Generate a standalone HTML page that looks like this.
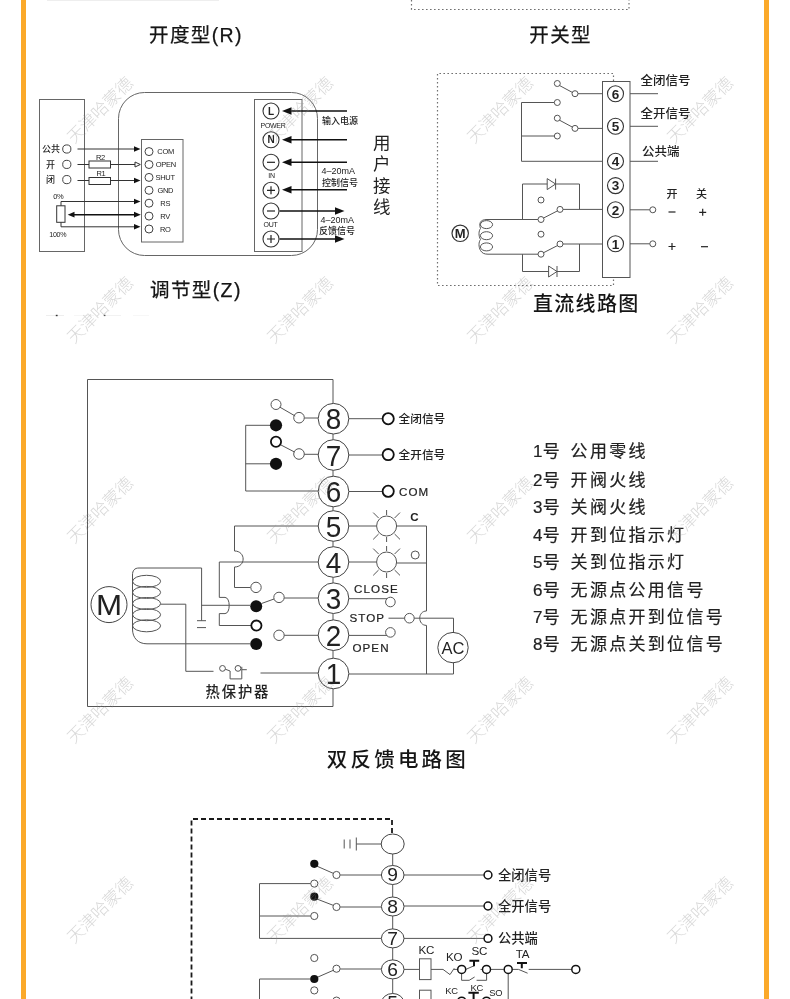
<!DOCTYPE html>
<html lang="zh-CN">
<head>
<meta charset="utf-8">
<title>接线图</title>
<style>
html,body{margin:0;padding:0;background:#fff;}
body{width:790px;height:999px;overflow:hidden;font-family:"Liberation Sans","Noto Sans CJK SC",sans-serif;}
svg{display:block;will-change:transform;}
svg text{font-family:"Liberation Sans","Noto Sans CJK SC",sans-serif;fill:#222;}
.ln{stroke:#666;stroke-width:1;fill:none;}
.lb{stroke:#222;stroke-width:1.4;fill:none;}
.wm text{fill:#8c8c8c;fill-opacity:0.34;font-size:17px;font-weight:300;text-anchor:middle;}
.ttl{font-size:19.5px;fill:#151515;font-weight:400;stroke:#151515;stroke-width:0.25px;}
.dot{stroke:#707070;stroke-width:1.2;fill:none;stroke-dasharray:1.6 2.4;}
</style>
</head>
<body>
<svg width="790" height="999" viewBox="0 0 790 999">
<rect x="0" y="0" width="790" height="999" fill="#fff"/>
<!-- side borders -->
<rect x="21" y="0" width="5" height="999" fill="#fba92a"/>
<rect x="764" y="0" width="5" height="999" fill="#fba92a"/>


<!-- SECTION1: top-left regulator diagram -->
<g id="s1">
<!-- faint cropped remnants at very top -->
<g fill="#eeeeee"><rect x="47" y="0" width="172" height="1"/></g>
<text class="ttl" x="149" y="41.8" style="letter-spacing:1.4px">开度型(R)</text>
<text class="ttl" x="150" y="296.8" style="letter-spacing:1.4px">调节型(Z)</text>
<!-- left box -->
<rect class="ln" x="39.5" y="99.5" width="45" height="152"/>
<!-- rounded body -->
<rect class="ln" x="118.5" y="92.5" width="199" height="163" rx="26" ry="26"/>
<!-- inner terminal box -->
<rect class="ln" x="141.5" y="139.5" width="41.5" height="102.5"/>
<g class="ln" style="stroke:#444">
<circle cx="149" cy="151.6" r="4"/><circle cx="149" cy="164.5" r="4"/><circle cx="149" cy="177.4" r="4"/><circle cx="149" cy="190.3" r="4"/><circle cx="149" cy="203.2" r="4"/><circle cx="149" cy="216.1" r="4"/><circle cx="149" cy="229" r="4"/>
<circle cx="66.8" cy="149" r="4.1"/><circle cx="66.8" cy="164.4" r="4.1"/><circle cx="66.8" cy="179.6" r="4.1"/>
</g>
<g font-size="7.5" style="letter-spacing:-0.3px">
<text x="157.3" y="154.4">COM</text>
<text x="155.7" y="167.2">OPEN</text>
<text x="155.5" y="180.2">SHUT</text>
<text x="157.4" y="193.2">GND</text>
<text x="160.3" y="206">RS</text>
<text x="160.3" y="218.9">RV</text>
<text x="160" y="231.8">RO</text>
<text x="96" y="159.8">R2</text>
<text x="96.5" y="176.2">R1</text>
<text x="53.2" y="199.2">0%</text>
<text x="49.3" y="236.8" font-size="7.1">100%</text>
</g>
<g font-size="9" font-weight="500">
<text x="42" y="152.3">公共</text>
<text x="46" y="167.7">开</text>
<text x="46" y="183">闭</text>
</g>
<!-- signal lines -->
<g class="ln" style="stroke:#333">
<path d="M77.5 149H135"/>
<path d="M77.5 164.5H89M110.5 164.5H135"/>
<rect x="89" y="161" width="21.5" height="7" />
<path d="M77.5 180.5H89M110.5 180.5H135"/>
<rect x="89" y="177.5" width="21.5" height="7"/>
<path d="M135 162V167L140.3 164.5Z" fill="#fff"/>
<rect x="56.7" y="205.8" width="8.3" height="16.5"/>
<path d="M61 205.8V201.5H135"/>
<path d="M61 222.3V226.8H135"/>
</g>
<g fill="#111">
<path d="M134 146.3V151.7L140.5 149Z"/>
<path d="M134 177.8V183.2L140.5 180.5Z"/>
<path d="M134 198.8V204.2L140.5 201.5Z"/>
<path d="M134 224.1V229.5L140.5 226.8Z"/>
<path d="M134 211.8V217.6L140.8 214.7Z"/>
<path d="M74.5 211.8V217.6L67.7 214.7Z"/>
</g>
<path d="M73 214.7H135" stroke="#111" stroke-width="1.5" fill="none"/>
<!-- right terminal box -->
<rect class="ln" x="254.5" y="99.5" width="47.5" height="152"/>
<g class="ln" style="stroke:#333;stroke-width:1.1">
<circle cx="271" cy="111" r="8"/><circle cx="271" cy="139.7" r="8"/><circle cx="271" cy="162.3" r="8"/><circle cx="271" cy="190.3" r="8"/><circle cx="271" cy="211" r="8"/><circle cx="271" cy="239" r="8"/>
</g>
<g font-size="10" font-weight="bold" text-anchor="middle">
<text x="271" y="114.6">L</text>
<text x="271" y="143.3">N</text>
</g>
<g stroke="#222" stroke-width="1.2">
<path d="M267 162.3H275"/>
<path d="M267 190.3H275M271 186.3V194.3"/>
<path d="M267 211H275"/>
<path d="M267 239H275M271 235V243"/>
</g>
<g font-size="7" text-anchor="middle" style="letter-spacing:-0.3px">
<text x="273" y="128">POWER</text>
<text x="271.5" y="178.4">IN</text>
<text x="270.5" y="226.7">OUT</text>
</g>
<!-- arrows -->
<g stroke="#111" stroke-width="1.5" fill="none">
<path d="M347 111H289"/>
<path d="M347 139.7H289"/>
<path d="M347 162.3H289"/>
<path d="M347 189.8H289"/>
<path d="M279.5 211H337"/>
<path d="M279.5 239H337"/>
</g>
<g fill="#111">
<path d="M282 111L291.5 107.3V114.7Z"/>
<path d="M282 139.7L291.5 136V143.4Z"/>
<path d="M282 162.3L291.5 158.6V166Z"/>
<path d="M282 189.8L291.5 186.1V193.5Z"/>
<path d="M344.5 211L335 207.3V214.7Z"/>
<path d="M344.5 239L335 235.3V242.7Z"/>
</g>
<g font-size="9" font-weight="500">
<text x="322" y="124.3">输入电源</text>
<text x="322" y="185.8">控制信号</text>
<text x="319" y="234">反馈信号</text>
</g>
<g font-size="9">
<text x="321.6" y="174.2">4–20mA</text>
<text x="320.6" y="223.2">4–20mA</text>
</g>
<g font-size="17.5" text-anchor="middle" fill="#111">
<text x="381.8" y="148.8">用</text>
<text x="381.8" y="170.2">户</text>
<text x="381.8" y="191.5">接</text>
<text x="381.8" y="213.2">线</text>
</g>
<!-- small cropped remnants -->
<g><rect x="46" y="315" width="18" height="1" fill="#eeeeee"/><rect x="74" y="315" width="20" height="1" fill="#f6f6f6"/><rect x="105" y="315" width="16" height="1" fill="#f2f2f2"/><rect x="133" y="315" width="16" height="1" fill="#f7f7f7"/><rect x="55.8" y="314.8" width="1.8" height="1.4" fill="#333"/><rect x="103.8" y="314.8" width="1.6" height="1.3" fill="#444"/></g>
</g>
<!-- SECTION2: top-right DC diagram -->
<g id="s2">
<path class="dot" d="M411.5 0V9.5H629V0"/>
<text class="ttl" x="529.3" y="41.8" style="letter-spacing:1.4px">开关型</text>
<text class="ttl" x="533" y="310.6" style="letter-spacing:1.3px;font-size:20px;font-weight:500;stroke:none">直流线路图</text>
<!-- dashed enclosure -->
<path class="dot" d="M613.5 81V73.5H437.5V285.5H613.5V277.5"/>
<!-- terminal strip -->
<rect class="ln" x="602.5" y="81.5" width="27.5" height="196" style="stroke:#555"/>
<g class="ln" style="fill:#fff;stroke:#333;stroke-width:1.1">
<circle cx="615.5" cy="93.7" r="8"/><circle cx="615.5" cy="126.3" r="8"/><circle cx="615.5" cy="161.3" r="8"/><circle cx="615.5" cy="185.6" r="8"/><circle cx="615.5" cy="209.8" r="8"/><circle cx="615.5" cy="243.8" r="8"/>
</g>
<g font-size="13.5" font-weight="bold" text-anchor="middle" fill="#111">
<text x="615.5" y="98.5">6</text><text x="615.5" y="131.1">5</text><text x="615.5" y="166.1">4</text><text x="615.5" y="190.4">3</text><text x="615.5" y="214.6">2</text><text x="615.5" y="248.6">1</text>
</g>
<!-- upper switches -->
<g class="ln" style="stroke:#555">
<path d="M578 93.7H602.5"/>
<path d="M559.5 85.5L572.5 92.5"/>
<path d="M578 128.4H602.5"/>
<path d="M559.5 120.2L572.5 127.2"/>
<path d="M554.3 102.5H521.5V161.3H602.5"/>
<path d="M554.3 136H521.5"/>
<circle cx="557.3" cy="83.5" r="3"/><circle cx="575" cy="93.7" r="3"/><circle cx="557.3" cy="102.5" r="3"/>
<circle cx="557.3" cy="118.2" r="3"/><circle cx="575" cy="128.4" r="3"/><circle cx="557.3" cy="136" r="3"/>
</g>
<!-- output lines right -->
<g class="ln" style="stroke:#555">
<path d="M630 93.7H658M630 126.3H658M630 161.3H658"/>
<path d="M630 209.8H649.8M630 243.8H649.8"/>
<circle cx="652.8" cy="209.8" r="3"/><circle cx="652.8" cy="243.8" r="3"/>
</g>
<g font-size="12.5" font-weight="500">
<text x="640.5" y="85.3">全闭信号</text>
<text x="640.5" y="118.2">全开信号</text>
<text x="642" y="155.5">公共端</text>
</g>
<g font-size="11" font-weight="500" text-anchor="middle">
<text x="672" y="198.4">开</text><text x="701.5" y="198.4">关</text>
</g>
<g stroke="#222" stroke-width="1.2">
<path d="M668.5 212H675.5"/>
<path d="M699.2 212.3H706.2M702.7 208.8V215.8"/>
<path d="M668.5 246.5H675.5M672 243V250"/>
<path d="M701 246.7H708"/>
</g>
<!-- motor circuit -->
<g class="ln" style="stroke:#555">
<path d="M522.5 219.5V184H579.5V209.4"/>
<path d="M522.5 254.2V271.5H579.5V244"/>
<path d="M563 209.4H602.5"/>
<path d="M563 244H602.5"/>
<path d="M543.6 218L557.6 210.8"/>
<path d="M543.6 252.7L557.6 245.5"/>
<path d="M538 219.5H487"/>
<path d="M538 254.2H488"/>
<circle cx="541" cy="200" r="3"/><circle cx="560" cy="209.4" r="3"/><circle cx="541" cy="219.5" r="3"/>
<circle cx="541" cy="234.2" r="3"/><circle cx="560" cy="244" r="3"/><circle cx="541" cy="254.2" r="3"/>
<!-- diodes -->
<path d="M547.2 178.6V189.6L555.6 184ZM555.6 178.6V189.6" style="fill:#fff"/>
<path d="M548.6 266V277L557 271.5ZM557 266V277" style="fill:#fff"/>
<!-- coil -->
<path d="M487 219.5C479.5 219.5 479 224 480.5 228.5C478.5 231 478.5 236 480.5 239.5C478.5 242 478.5 247 480.5 250.5C482 253 484 254.2 488 254.2"/>
<ellipse cx="486.5" cy="224.6" rx="6.1" ry="4"/>
<ellipse cx="486.5" cy="235.7" rx="6.1" ry="4"/>
<ellipse cx="486.5" cy="246.9" rx="6.1" ry="4"/>
</g>
<circle cx="460.2" cy="233.3" r="8.2" class="ln" style="stroke:#333;stroke-width:1.2"/>
<text x="460.2" y="238" font-size="13" font-weight="bold" text-anchor="middle">M</text>
</g>
<!-- SECTION3: middle double-feedback diagram -->
<g id="s3">
<!-- enclosure + terminal spine -->
<path class="ln" d="M333 404V379.5H87.5V706.5H333V404" style="stroke:#555"/>
<!-- left wiring -->
<g class="ln" style="stroke:#555">
<path d="M271 425.3H245.7V491H318"/>
<path d="M271 463.8H245.7"/>
<path d="M304.3 418H318"/>
<path d="M304.3 454.3H318"/>
<path d="M279.6 407L295.2 416"/>
<path d="M280.6 444.8L294.5 452"/>
<circle cx="276" cy="404.5" r="5"/>
<circle cx="299" cy="417.7" r="5.3"/>
<circle cx="299" cy="454" r="5.3"/>
<!-- from 5 -->
<path d="M318 526H234.5V551C246 551 246 567 234.5 567V587.5H250.5"/>
<!-- from 4 -->
<path d="M318 562H219.3V597.4H225C230.6 597.4 230.6 613.6 225 613.6H219.3V625.5H251"/>
<circle cx="256" cy="587.4" r="5.2"/>
<!-- coil top & capacitor -->
<path d="M201.6 620.7V568H139C134.5 568 132.5 570.5 132.5 575V629C132.5 638 138 643.8 147 643.8H250"/>
<path d="M197 620.7H206M197 627.6H206"/>
<path d="M201.6 605.3H250"/>
<ellipse cx="146.6" cy="581.3" rx="14" ry="6"/>
<ellipse cx="146.6" cy="592.4" rx="14" ry="6"/>
<ellipse cx="146.6" cy="603.5" rx="14" ry="6"/>
<ellipse cx="146.6" cy="614.7" rx="14" ry="6"/>
<ellipse cx="146.6" cy="625.8" rx="14" ry="6"/>
<!-- coil mid to protector -->
<path d="M160.5 604.2H185.8V671.3H213.5"/>
<circle cx="222.5" cy="668.4" r="2.9"/>
<circle cx="238" cy="668.4" r="2.9"/>
<path d="M225.3 669.2L230.1 671V678.9H241.8V666.8M241.8 669.7H246.8"/>
<path d="M260.5 673H318"/>
<!-- switch arms -->
<path d="M261.5 603.5L274 599"/>
<circle cx="279" cy="597.4" r="5.2"/>
<circle cx="279" cy="635.3" r="5.2"/>
<path d="M284.2 598H318M284.2 635.3H318"/>
</g>
<g fill="#111">
<circle cx="276" cy="425.3" r="6.1"/><circle cx="276" cy="463.8" r="6.1"/>
<circle cx="256.2" cy="606.2" r="6"/><circle cx="256.2" cy="644" r="6"/>
</g>
<g class="lb" style="stroke:#111;stroke-width:1.8">
<circle cx="276" cy="441.7" r="5.1"/>
<circle cx="256.4" cy="625.6" r="5.1"/>
</g>
<!-- motor -->
<circle class="ln" cx="109" cy="604.6" r="18" style="stroke:#444"/>
<text transform="translate(109 615) scale(1.08 1)" font-size="29" text-anchor="middle" fill="#111">M</text>
<text x="205.5" y="697.3" font-size="14.4" font-weight="500" style="letter-spacing:1.8px" fill="#151515">热保护器</text>
<!-- right wiring -->
<g class="ln" style="stroke:#555">
<path d="M349 418.7H382.5M349 455H382.5M349 491.5H382.5"/>
<path d="M349 526H376.5M396.6 526H426.5V611C417.5 611 417.5 625.4 426.5 625.4V674"/>
<path d="M349 562H376.5M396.6 563H426.5"/>
<circle cx="386.6" cy="526" r="10"/>
<circle cx="386.6" cy="562" r="10"/>
<path d="M386.6 510V515M386.6 537V542M373.2 512.6L378.6 518M400 512.6L394.6 518M373.2 539.4L378.6 534M400 539.4L394.6 534"/>
<path d="M386.6 546V551M386.6 573V578M373.2 548.6L378.6 554M400 548.6L394.6 554M373.2 575.4L378.6 570M400 575.4L394.6 570"/>
<circle cx="415.2" cy="555" r="4"/>
<path d="M349 598.7H387"/>
<circle cx="390.4" cy="602" r="4.8"/>
<path d="M349 635.4H387"/>
<circle cx="390.4" cy="632.4" r="4.8"/>
<path d="M388.5 618.2H404.6M414.2 618.2H453.5V632.4M453.5 662.8V674H349"/>
<circle cx="409.4" cy="618.2" r="4.8"/>
<circle cx="453" cy="647.6" r="15.2" stroke="#444"/>
</g>
<g class="lb" style="stroke:#111;stroke-width:1.8">
<circle cx="388.2" cy="418.7" r="5.6"/><circle cx="388.2" cy="454.6" r="5.6"/><circle cx="388.2" cy="491.3" r="5.6"/>
</g>
<g font-size="11.7" font-weight="500" fill="#111">
<text x="398.5" y="422.9">全闭信号</text>
<text x="398.5" y="459.2">全开信号</text>
</g>
<g font-size="11.6" fill="#222" stroke="#222" stroke-width="0.2" style="letter-spacing:1.1px">
<text x="399" y="495.6">COM</text>
<text x="354" y="592.7">CLOSE</text>
<text x="349.4" y="622.3">STOP</text>
<text x="352.4" y="652.2">OPEN</text>
<text x="410.3" y="520.6" font-weight="bold" stroke="none">C</text>
</g>
<text x="453" y="653.6" font-size="16.5" text-anchor="middle" fill="#111">AC</text>
<!-- terminal circles -->
<g class="ln" style="fill:#fff;stroke:#444">
<circle cx="333.5" cy="418.7" r="15.3"/><circle cx="333.5" cy="455" r="15.3"/><circle cx="333.5" cy="491.5" r="15.3"/><circle cx="333.5" cy="526" r="15.3"/><circle cx="333.5" cy="562" r="15.3"/><circle cx="333.5" cy="598.2" r="15.3"/><circle cx="333.5" cy="635.2" r="15.3"/><circle cx="333.5" cy="673.5" r="15.3"/>
</g>
<g font-size="30" text-anchor="middle" fill="#111">
<text transform="translate(333.5 429.4) scale(0.93 1)">8</text>
<text transform="translate(333.5 465.7) scale(0.93 1)">7</text>
<text transform="translate(333.5 502.2) scale(0.93 1)">6</text>
<text transform="translate(333.5 536.7) scale(0.93 1)">5</text>
<text transform="translate(333.5 572.7) scale(0.93 1)">4</text>
<text transform="translate(333.5 608.9) scale(0.93 1)">3</text>
<text transform="translate(333.5 645.9) scale(0.93 1)">2</text>
<text transform="translate(333.5 684.2) scale(0.93 1)">1</text>
</g>
<!-- legend -->
<g font-size="17" fill="#1a1a1a" font-weight="400" stroke="#1a1a1a" stroke-width="0.2">
<text x="533" y="457.3" style="letter-spacing:0.3px">1号</text><text x="570.6" y="457.3" style="letter-spacing:2.3px">公用零线</text>
<text x="533" y="485.7" style="letter-spacing:0.3px">2号</text><text x="570.6" y="485.7" style="letter-spacing:2.3px">开阀火线</text>
<text x="533" y="513.3" style="letter-spacing:0.3px">3号</text><text x="570.6" y="513.3" style="letter-spacing:2.3px">关阀火线</text>
<text x="533" y="540.8" style="letter-spacing:0.3px">4号</text><text x="570.6" y="540.8" style="letter-spacing:2.3px">开到位指示灯</text>
<text x="533" y="568.3" style="letter-spacing:0.3px">5号</text><text x="570.6" y="568.3" style="letter-spacing:2.3px">关到位指示灯</text>
<text x="533" y="595.8" style="letter-spacing:0.3px">6号</text><text x="570.6" y="595.8" style="letter-spacing:2.3px">无源点公用信号</text>
<text x="533" y="623.2" style="letter-spacing:0.3px">7号</text><text x="570.6" y="623.2" style="letter-spacing:2.3px">无源点开到位信号</text>
<text x="533" y="650.3" style="letter-spacing:0.3px">8号</text><text x="570.6" y="650.3" style="letter-spacing:2.3px">无源点关到位信号</text>
</g>
<text class="ttl" x="326.8" y="767" style="letter-spacing:3.2px;font-size:20.5px;font-weight:500;stroke:none">双反馈电路图</text>
</g>
<!-- SECTION4: bottom diagram (cropped) -->
<g id="s4">
<path d="M392 833V819H191.5V999" fill="none" stroke="#1a1a1a" stroke-width="1.8" stroke-dasharray="5 3"/>
<!-- spine -->
<path class="ln" d="M392.7 854V999" style="stroke:#555"/>
<g class="ln" style="stroke:#555">
<!-- ground -->
<path d="M381.2 844H356.3M356.3 837.5V850.5M350 839.5V848.5M344.2 839.5V848.5"/>
<!-- upper switches -->
<path d="M340.2 875H381.5M340.2 907H381.5"/>
<path d="M316.6 866L333.4 873.4"/>
<path d="M316.6 898.9L333.4 905.4"/>
<path d="M310.6 883.6H259.5V938.4H381.5"/>
<path d="M310.6 916H259.5"/>
<circle cx="336.5" cy="875" r="3.6"/><circle cx="314.3" cy="883.6" r="3.6"/>
<circle cx="336.5" cy="907" r="3.6"/><circle cx="314.3" cy="916" r="3.6"/>
<!-- lower switches -->
<circle cx="314.3" cy="958" r="3.6"/><circle cx="336.5" cy="968.7" r="3.6"/><circle cx="314.3" cy="990.4" r="3.6"/>
<circle cx="336.5" cy="1000.6" r="3.6"/>
<path d="M317.3 977.3L333.3 970.3"/>
<path d="M340.2 969H381.5"/>
<path d="M310.5 979H259.5V999"/>
<!-- right signals -->
<path d="M404 875H484M404 906H484M404 938.4H484"/>
<!-- row 6 -->
<path d="M404 969.4H419.5M431 969.4H443L450 974.6L454 968.6V969.4H457.6"/>
<rect x="419.5" y="958.8" width="11.5" height="20.8"/>
<rect x="419.5" y="990.2" width="11.5" height="12"/>
<path d="M461.6 973.6V980.3H469.2L474.6 977M476.6 980.3H486.6V973.6"/>
<path d="M465.8 969.4L474 965.8M480.5 969.4H482.3"/>
<path d="M490.8 969.4H503.8M512.4 969.4H518.5L527.6 973.2M528.7 969.4H571.6"/>
<path d="M508.2 973.6V999"/>
</g>
<g fill="#111">
<circle cx="314.3" cy="863.8" r="4.1"/><circle cx="314.3" cy="896.7" r="4.1"/><circle cx="314.3" cy="979" r="4.1"/>
</g>
<g class="ln" style="fill:#fff;stroke:#444">
<ellipse cx="392.7" cy="844" rx="11.5" ry="10"/>
<ellipse cx="392.7" cy="875" rx="11.3" ry="9.5"/>
<ellipse cx="392.7" cy="906.5" rx="11.3" ry="9.5"/>
<ellipse cx="392.7" cy="938.4" rx="11.3" ry="9.5"/>
<ellipse cx="392.7" cy="969.4" rx="11.3" ry="9.5"/>
<ellipse cx="392.7" cy="1003" rx="11.3" ry="9.5"/>
</g>
<g font-size="17.5" text-anchor="middle" fill="#111">
<text transform="translate(392.7 881.3) scale(1.1 1)">9</text><text transform="translate(392.7 912.8) scale(1.1 1)">8</text><text transform="translate(392.7 944.7) scale(1.1 1)">7</text><text transform="translate(392.7 975.7) scale(1.1 1)">6</text><text transform="translate(392.7 1009.3) scale(1.1 1)">5</text>
</g>
<g class="lb" style="stroke:#111;stroke-width:1.5">
<circle cx="488" cy="875" r="3.9"/><circle cx="488" cy="906" r="3.9"/><circle cx="488" cy="938.4" r="3.9"/>
<circle cx="461.7" cy="969.4" r="4"/><circle cx="486.5" cy="969.4" r="4"/><circle cx="508.2" cy="969.4" r="4"/><circle cx="575.8" cy="969.4" r="4"/>
<circle cx="461.7" cy="1001.2" r="4"/><circle cx="486.5" cy="1001.2" r="4"/>
</g>
<g font-size="13.3" font-weight="500" fill="#111">
<text x="498" y="879.8">全闭信号</text>
<text x="498" y="910.9">全开信号</text>
<text x="498" y="943.3">公共端</text>
</g>
<g font-size="11.6" fill="#111" style="letter-spacing:-0.3px">
<text x="418.6" y="954.2">KC</text>
<text x="446" y="960.6">KO</text>
<text x="471.6" y="955.2">SC</text>
<text x="515.8" y="958.4">TA</text>
</g>
<g font-size="9.4" fill="#111" style="letter-spacing:-0.3px">
<text x="445.3" y="994.4">KC</text>
<text x="470.5" y="991">KC</text>
<text x="489.3" y="996.2">SO</text>
</g>
<!-- push-button T marks -->
<g stroke="#111" stroke-width="2" fill="none">
<path d="M469.4 960.8H479.2M474 960.8V966.2"/>
<path d="M517 963H527M521.8 963V968.2"/>
<path d="M468.4 992.8H478.8M473.6 992.8V999"/>
</g>
</g>
<!-- WATERMARKS -->
<g class="wm" id="wm">
<text x="100" y="116" transform="rotate(-45 100 110)">天津哈蒙德</text>
<text x="300" y="116" transform="rotate(-45 300 110)">天津哈蒙德</text>
<text x="500" y="116" transform="rotate(-45 500 110)">天津哈蒙德</text>
<text x="700" y="116" transform="rotate(-45 700 110)">天津哈蒙德</text>
<text x="100" y="316" transform="rotate(-45 100 310)">天津哈蒙德</text>
<text x="300" y="316" transform="rotate(-45 300 310)">天津哈蒙德</text>
<text x="500" y="316" transform="rotate(-45 500 310)">天津哈蒙德</text>
<text x="700" y="316" transform="rotate(-45 700 310)">天津哈蒙德</text>
<text x="100" y="516" transform="rotate(-45 100 510)">天津哈蒙德</text>
<text x="300" y="516" transform="rotate(-45 300 510)">天津哈蒙德</text>
<text x="500" y="516" transform="rotate(-45 500 510)">天津哈蒙德</text>
<text x="700" y="516" transform="rotate(-45 700 510)">天津哈蒙德</text>
<text x="100" y="716" transform="rotate(-45 100 710)">天津哈蒙德</text>
<text x="300" y="716" transform="rotate(-45 300 710)">天津哈蒙德</text>
<text x="500" y="716" transform="rotate(-45 500 710)">天津哈蒙德</text>
<text x="700" y="716" transform="rotate(-45 700 710)">天津哈蒙德</text>
<text x="100" y="916" transform="rotate(-45 100 910)">天津哈蒙德</text>
<text x="300" y="916" transform="rotate(-45 300 910)">天津哈蒙德</text>
<text x="500" y="916" transform="rotate(-45 500 910)">天津哈蒙德</text>
<text x="700" y="916" transform="rotate(-45 700 910)">天津哈蒙德</text>
</g>
</svg>
</body>
</html>
